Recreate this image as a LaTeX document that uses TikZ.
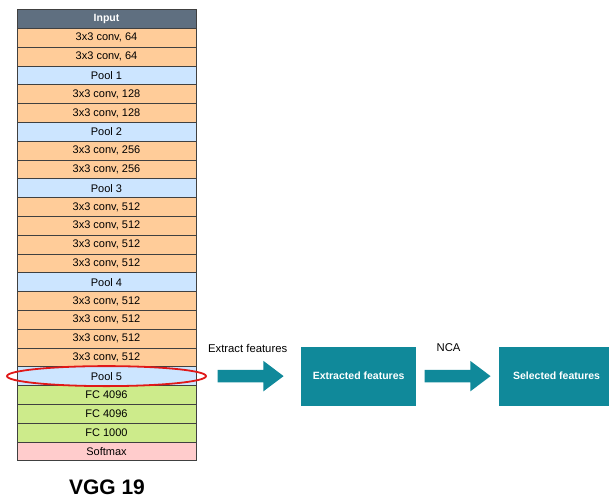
\documentclass[tikz,border=0pt]{standalone}
\usepackage{fontspec}
\setmainfont{Liberation Sans}
\usetikzlibrary{positioning,calc,shapes.geometric,shapes.arrows}
\definecolor{headgray}{HTML}{5F6F80}
\definecolor{convorange}{HTML}{FFCC99}
\definecolor{poolblue}{HTML}{CCE5FF}
\definecolor{fcgreen}{HTML}{CDEB8B}
\definecolor{softpink}{HTML}{FFCCCC}
\definecolor{tealbox}{HTML}{10899A}
\definecolor{ringred}{HTML}{E01818}
\tikzset{layer base/.style={rectangle,draw=black!75,line width=0.7pt,text centered,
    minimum width=179pt,minimum height=18.8pt,inner sep=0pt,font=\fontsize{11}{13}\selectfont}, }
\tikzset{head/.style={layer base,fill=headgray,text=white,font=\fontsize{10.5}{12}\selectfont\bfseries}, }
\tikzset{conv/.style={layer base,fill=convorange}, }
\tikzset{pool/.style={layer base,fill=poolblue}, }
\tikzset{fc/.style={layer base,fill=fcgreen}, }
\tikzset{soft/.style={layer base,fill=softpink}, }
\tikzset{ring/.style={ellipse,draw=ringred,line width=1.8pt,inner sep=0pt,
    minimum width=199pt,minimum height=20pt}, }
\tikzset{featbox/.style={rectangle,fill=tealbox,text=white,minimum width=115pt,
    minimum height=59pt,font=\fontsize{10.5}{12}\selectfont\bfseries}, }
\tikzset{bigarrow/.style={single arrow,fill=tealbox,inner xsep=0pt,inner ysep=6pt,
    minimum height=66pt,single arrow head extend=9pt,single arrow tip angle=74,anchor=tail}, }
\tikzset{lbl/.style={inner sep=0pt,font=\fontsize{11.3}{13}\selectfont}, }
\begin{document}
\begin{tikzpicture}[x=1pt,y=-1pt]
\useasboundingbox (0,0) rectangle (609,498);
%
\foreach \x/\s/\t in {1/head/Input,2/conv/{3x3 conv, 64},3/conv/{3x3 conv, 64},4/pool/Pool 1,
  5/conv/{3x3 conv, 128},6/conv/{3x3 conv, 128},7/pool/Pool 2,
  8/conv/{3x3 conv, 256},9/conv/{3x3 conv, 256},10/pool/Pool 3,
  11/conv/{3x3 conv, 512},12/conv/{3x3 conv, 512},13/conv/{3x3 conv, 512},14/conv/{3x3 conv, 512},15/pool/Pool 4,
  16/conv/{3x3 conv, 512},17/conv/{3x3 conv, 512},18/conv/{3x3 conv, 512},19/conv/{3x3 conv, 512},20/pool/Pool 5,
  21/fc/FC 4096,22/fc/FC 4096,23/fc/FC 1000,24/soft/Softmax}
  \node[\s] (\x) at (106.5,{9.5+18.8*(\x-0.5)}) {\t};
%
\node[font=\fontsize{21}{24}\selectfont\bfseries,inner sep=0pt] (25) at (107,487.5) {VGG 19};
\node[ring] (26) at (20.center) {};
%
\node[bigarrow] (27) at ($(26.east)+(10.5,0)$) {};
\node[featbox,anchor=west] (28) at ($(27.tip)+(17,0)$) {Extracted features};
\node[bigarrow] (29) at ($(28.east)+(8,0)$) {};
\node[featbox,anchor=west] (30) at ($(29.tip)+(8,0)$) {Selected features};
\node[lbl] (31) at ($(27.tail)!0.5!(27.tip)+(-3,-28)$) {Extract features};
\node[lbl] (32) at ($(29.tail)!0.5!(29.tip)+(-9,-28)$) {NCA};
\end{tikzpicture}
\end{document}
